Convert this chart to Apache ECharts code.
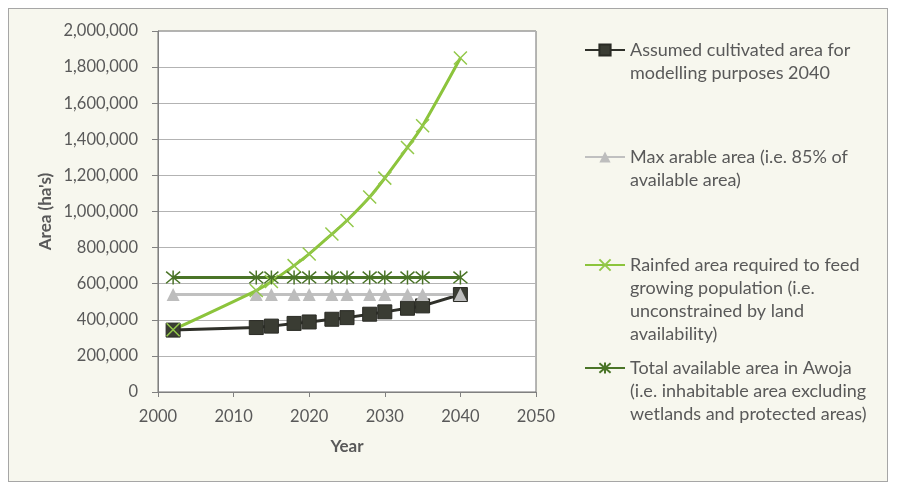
<!DOCTYPE html>
<html>
<head>
<meta charset="utf-8">
<script src="https://cdn.jsdelivr.net/npm/echarts@6/dist/echarts.min.js"></script>
<style>
  html, body { margin: 0; padding: 0; background: #fff; }
  #frame {
    position: absolute; left: 8px; top: 8px; width: 878px; height: 472px;
    background: #f7f7ee; border: 1px solid #a6a6a6;
  }
  #chart { position: absolute; left: 0; top: 0; width: 906px; height: 500px; }
</style>
</head>
<body>
<div id="frame"></div>
<div id="chart"></div>
<script>
// 年份（横轴）
var years = [2002, 2013, 2015, 2018, 2020, 2023, 2025, 2028, 2030, 2033, 2035, 2040];
// 各系列数值（ha）
var cultivated = [343000, 357000, 365000, 380000, 388000, 403000, 412000, 431000, 444000, 464000, 477000, 540000];
var maxArable = [540000, 540000, 540000, 540000, 540000, 540000, 540000, 540000, 540000, 540000, 540000, 540000];
var rainfed = [345000, 562000, 612000, 700000, 765000, 875000, 950000, 1080000, 1185000, 1355000, 1475000, 1850000];
var totalAvail = [635000, 635000, 635000, 635000, 635000, 635000, 635000, 635000, 635000, 635000, 635000, 635000];
// 图例名称
var seriesNames = [
  "Assumed cultivated area for\nmodelling purposes 2040",
  "Max arable area (i.e. 85% of\navailable area)",
  "Rainfed area required to feed\ngrowing population (i.e.\nunconstrained by land\navailability)",
  "Total available area in Awoja\n(i.e. inhabitable area excluding\nwetlands and protected areas)"
];

var FONT = "Lato";
var TEXT = "#595959";
var LH = 23;

function pairs(vals) {
  return years.map(function (y, i) { return [y, vals[i]]; });
}

var crossPath = "path://M0,0L10,10M10,0L0,10";
var starPath = "path://M0,0L10,10M10,0L0,10M5,-1L5,11";

var series = [
  {
    name: seriesNames[0], type: "line", data: pairs(cultivated),
    symbol: "rect", symbolSize: 14,
    lineStyle: { color: "#2f302a", width: 3 },
    itemStyle: { color: "#3a3c33", borderColor: "#2a2b25", borderWidth: 1 }
  },
  {
    name: seriesNames[1], type: "line", data: pairs(maxArable),
    symbol: "triangle", symbolSize: 13,
    lineStyle: { color: "#c0c0c0", width: 3 },
    itemStyle: { color: "#bdbdbd" }
  },
  {
    name: seriesNames[2], type: "line", data: pairs(rainfed),
    smooth: 0.3,
    symbol: crossPath, symbolSize: 13,
    lineStyle: { color: "#8cc43c", width: 3 },
    itemStyle: { color: "#8cc43c", borderColor: "#93c84a", borderWidth: 1.5 }
  },
  {
    name: seriesNames[3], type: "line", data: pairs(totalAvail),
    symbol: starPath, symbolSize: 14,
    lineStyle: { color: "#4a7427", width: 3 },
    itemStyle: { color: "#4a7427", borderColor: "#4a7427", borderWidth: 1.5 }
  }
];

// 图例：每项一个，首行与图标对齐（前面补空行）
var legendFirstLineY = [50, 157, 265, 368];
var legends = seriesNames.map(function (name, i) {
  var n = name.split("\n").length;
  var pad = new Array(n).join("\n");
  return {
    data: [name],
    left: 584,
    top: legendFirstLineY[i] - (2 * n - 1) * LH / 2,
    padding: 0,
    itemWidth: 40,
    itemHeight: 14,
    selectedMode: false,
    formatter: function (s) { return pad + s; },
    textStyle: { fontFamily: FONT, fontSize: 18, color: TEXT, lineHeight: LH }
  };
});

var chart = echarts.init(document.getElementById("chart"), null, { renderer: "canvas" });
chart.setOption({
  backgroundColor: "transparent",
  animation: false,
  textStyle: { fontFamily: FONT },
  legend: legends,
  grid: {
    left: 158, right: 370, top: 31, bottom: 108,
    show: true, backgroundColor: "#ffffff", borderColor: "#6e6e6e", borderWidth: 1
  },
  xAxis: {
    type: "value", min: 2000, max: 2050, interval: 10,
    name: "Year", nameLocation: "middle", nameGap: 46,
    nameTextStyle: { fontFamily: FONT, fontSize: 17, fontWeight: "bold", color: TEXT },
    axisLine: { lineStyle: { color: "#808080", width: 1 } },
    axisTick: { show: true, length: 5, lineStyle: { color: "#808080" } },
    axisLabel: {
      fontFamily: FONT, fontSize: 16.5, color: TEXT, margin: 16,
      formatter: function (v) { return String(v); }
    },
    splitLine: { show: false }
  },
  yAxis: {
    type: "value", min: 0, max: 2000000, interval: 200000,
    name: "Area (ha's)", nameLocation: "middle", nameGap: 104, nameRotate: 90,
    nameTextStyle: { fontFamily: FONT, fontSize: 17, fontWeight: "bold", color: TEXT },
    axisLine: { show: true, lineStyle: { color: "#808080", width: 1 } },
    axisTick: { show: true, length: 6, lineStyle: { color: "#808080" } },
    axisLabel: {
      fontFamily: FONT, fontSize: 16.5, color: TEXT, margin: 20,
      formatter: function (v) { return v.toLocaleString("en-US"); }
    },
    splitLine: { show: true, lineStyle: { color: "#b3b3b3", width: 1 } }
  },
  series: series
});
</script>
</body>
</html>
